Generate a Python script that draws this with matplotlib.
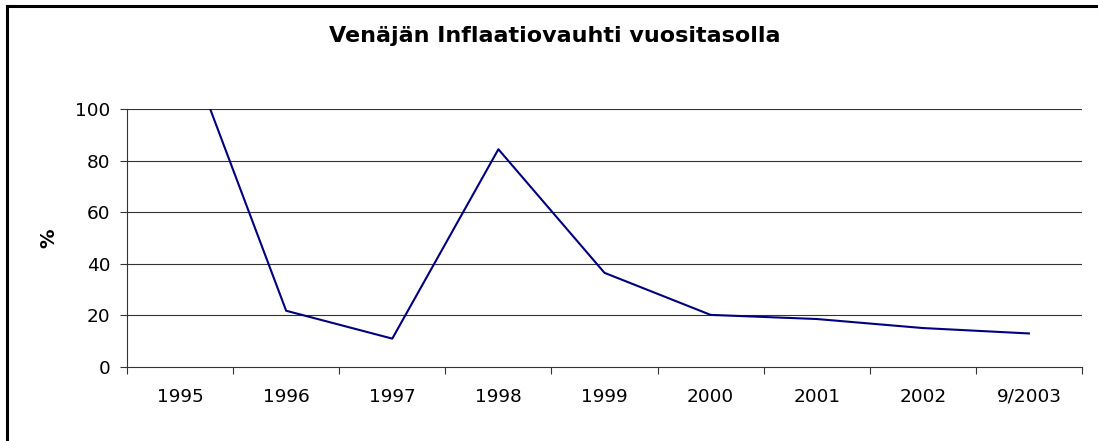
import matplotlib
matplotlib.use("Agg")
import matplotlib.pyplot as plt
from matplotlib.lines import Line2D

categories = ["1995", "1996", "1997", "1998", "1999", "2000", "2001", "2002", "9/2003"]
inflation = [131.0, 21.8, 11.0, 84.4, 36.5, 20.2, 18.6, 15.1, 13.0]
yticks = [0, 20, 40, 60, 80, 100]

plt.rcParams['font.family'] = ['DejaVu Sans']

W, H = 1098, 441
fig = plt.figure(figsize=(W / 100, H / 100), dpi=100)
ax = fig.add_axes([127 / W, 1 - 367 / H, (1082 - 127) / W, (367 - 109) / H])

x = list(range(len(categories)))
ax.plot(x, inflation, color="#000080", linewidth=1.5, clip_on=True)

ax.set_xlim(-0.5, len(categories) - 0.5)
ax.set_ylim(0, 100)
ax.set_yticks(yticks)
ax.set_yticklabels([str(v) for v in yticks], fontsize=13.3)
for v in yticks[1:]:
    ax.axhline(v, color="#333333", linewidth=0.8, zorder=0)

ax.set_xticks([i - 0.5 for i in range(len(categories) + 1)])
ax.set_xticklabels([])
ax.set_xticks(x, minor=True)
ax.set_xticklabels(categories, minor=True, fontsize=13.3)
ax.tick_params(axis="x", which="major", direction="out", length=5, color="#333333", width=0.8)
ax.tick_params(axis="x", which="minor", length=0, pad=15)
ax.tick_params(axis="y", direction="out", length=5, color="#333333", width=0.8, pad=7)

for s in ["top", "right"]:
    ax.spines[s].set_visible(False)
for s in ["left", "bottom"]:
    ax.spines[s].set_color("#333333")
    ax.spines[s].set_linewidth(0.8)

ax.set_ylabel("%", fontsize=14, fontweight="bold", labelpad=12)

fig.text(555 / W, 1 - 36 / H, "Venäjän Inflaatiovauhti vuositasolla",
         ha="center", va="center", fontsize=16, fontweight="bold")

# outer border (only top and left visible in the reference crop)
fig.add_artist(Line2D([6.5 / W, 1.0], [1 - 5.5 / H, 1 - 5.5 / H], color="black", linewidth=2.2,
                      transform=fig.transFigure))
fig.add_artist(Line2D([6.5 / W, 6.5 / W], [0, 1 - 5.5 / H], color="black", linewidth=2.2,
                      transform=fig.transFigure))

fig.savefig("out.png", dpi=100)
